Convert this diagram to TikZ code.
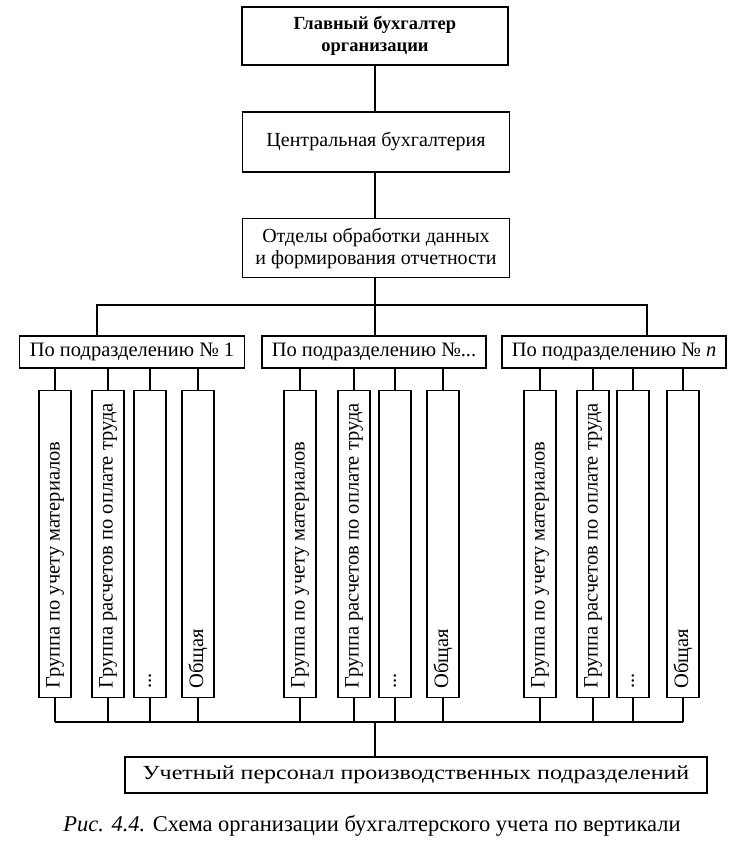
\documentclass[tikz,border=0pt]{standalone}
\usepackage{fontspec}
\setmainfont{Liberation Serif}
\begin{document}
\begin{tikzpicture}[x=1pt,y=-1pt,
  line width=1.6pt,
  box/.style={draw, rectangle, inner sep=2pt, align=center, font=\fontsize{20}{22}\selectfont},
  vbox/.style={draw, rectangle, minimum width=32pt, minimum height=307pt, inner sep=0pt},
  vtxt/.style={rotate=90, anchor=west, inner sep=0pt, font=\fontsize{20.5}{22}\selectfont},
  link/.style={line width=1.4pt}]
\useasboundingbox (0,0) rectangle (740,845);
% top chain
\node[box, minimum width=266pt, minimum height=58pt, font=\bfseries\fontsize{18.5}{22}\selectfont] (chief) at (375,36) {Главный бухгалтер\\организации};
\node[box, minimum width=267pt, minimum height=60pt] (central) at (376,142) {Центральная бухгалтерия};
\node[box, minimum width=267pt, minimum height=59pt] (depts) at (376,248) {Отделы обработки данных\\и формирования отчетности};
% divisions
\node[box, minimum width=225pt, minimum height=32pt, font=\fontsize{20.5}{22}\selectfont] (d1) at (132,352) {По подразделению № 1};
\node[box, minimum width=224pt, minimum height=32pt, font=\fontsize{20.5}{22}\selectfont] (d2) at (374,352) {По подразделению №...};
\node[box, minimum width=224pt, minimum height=32pt, font=\fontsize{20.5}{22}\selectfont] (d3) at (614,352) {По подразделению № \textit{n}};
% vertical group boxes
\foreach \g/\xa/\xb/\xc/\xd in {1/55/108/150/198, 2/300/354/395/443, 3/540/593/633/683}{
  \node[vbox] (v\g1) at (\xa,544) {};
  \node[vbox] (v\g2) at (\xb,544) {};
  \node[vbox] (v\g3) at (\xc,544) {};
  \node[vbox] (v\g4) at (\xd,544) {};
  \node[vtxt] (t\g1) at ([yshift=9pt]v\g1.south) {Группа по учету материалов};
  \node[vtxt] (t\g2) at ([yshift=9pt]v\g2.south) {Группа расчетов по оплате труда};
  \node[vtxt] (t\g3) at ([yshift=9pt]v\g3.south) {...};
  \node[vtxt] (t\g4) at ([yshift=9pt]v\g4.south) {Общая};
}
% bottom
\node[box, minimum width=582pt, minimum height=36pt] (staff) at (416,775) {\scalebox{1.2}[1]{Учетный персонал производственных подразделений}};
\node[font=\fontsize{22.5}{24}\selectfont, inner sep=0pt] (cap) at (372,826) {\textit{Рис. 4.4.} Схема организации бухгалтерского учета по вертикали};
% connectors
\coordinate (topbus) at (375,305);
\coordinate (botbus) at (375,722);
\draw[link] (chief.south -| topbus) -- (central.north -| topbus);
\draw[link] (central.south -| topbus) -- (depts.north -| topbus);
\draw[link] (depts.south -| topbus) -- (d2.north -| topbus);
\draw[link] (d1.north -| 97,0) |- (topbus) -| (d3.north -| 647,0);
\foreach \g in {1,2,3}{
  \foreach \k in {1,2,3,4}{
    \draw[link] (v\g\k.north |- d\g.south) -- (v\g\k.north);
    \draw[link] (v\g\k.south) -- (v\g\k.south |- botbus);
  }
}
\draw[link] (v11.south |- botbus) -- (v34.south |- botbus);
\draw[link] (botbus) -- (botbus |- staff.north);
\end{tikzpicture}
\end{document}
